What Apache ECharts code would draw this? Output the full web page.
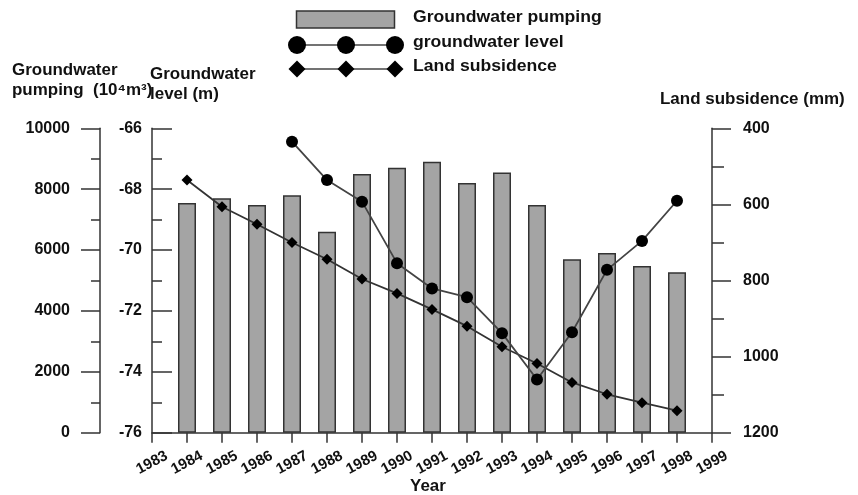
<!DOCTYPE html>
<html>
<head>
<meta charset="utf-8">
<script src="https://cdn.jsdelivr.net/npm/echarts@6/dist/echarts.min.js"></script>
<style>
html,body{margin:0;padding:0;background:#fff;}
#chart{width:858px;height:495px;}
</style>
</head>
<body>
<div id="chart"></div>
<script>
var years = [1984,1985,1986,1987,1988,1989,1990,1991,1992,1993,1994,1995,1996,1997,1998];
var pumping = [7550,7700,7480,7800,6600,8500,8700,8900,8200,8550,7480,5700,5900,5480,5270];
var levelYears = [1987,1988,1989,1990,1991,1992,1993,1994,1995,1996,1997,1998];
var level = [-66.44,-67.70,-68.41,-70.43,-71.26,-71.55,-72.73,-74.25,-72.70,-70.65,-69.70,-68.38];
var subsidence = [536,606,652,700,744,796,834,876,920,974,1018,1068,1099,1121,1142];
var seriesNames = ['Groundwater pumping','groundwater level','Land subsidence'];

var FONT = '"Liberation Sans", Arial, sans-serif';
var chart = echarts.init(document.getElementById('chart'), null, {renderer:'canvas'});

function pairs(xs, ys){ return xs.map(function(x,i){ return [x, ys[i]]; }); }
function plain(v){ return String(v); }

var axisLineStyle = {color:'#333', width:1.5};
var labelStyle = {color:'#111', fontFamily:FONT, fontWeight:'bold', fontSize:16, formatter:plain};

function txt(s, l, t, sx){
  return {type:'text', left:l, top:t, scaleX:sx||1.06,
    style:{text:s, font:'bold 16px '+FONT, fill:'#111'}};
}

var option = {
  animation:false,
  backgroundColor:'#fff',
  grid:{left:152, right:146, top:128.3, bottom:62.3, containLabel:false},
  xAxis:{
    type:'value', min:1983, max:1999, interval:1,
    axisLine:{show:true, lineStyle:axisLineStyle},
    axisTick:{show:true, length:10, lineStyle:axisLineStyle},
    splitLine:{show:false},
    axisLabel:{show:true, rotate:28, align:'center', verticalAlign:'middle', margin:30,
      color:'#111', fontFamily:FONT, fontWeight:'bold', fontSize:15, formatter:plain}
  },
  yAxis:[
    { // pumping
      type:'value', position:'left', offset:52, min:0, max:10000, interval:2000,
      axisLine:{show:true, lineStyle:axisLineStyle},
      axisTick:{show:true, inside:false, length:19, lineStyle:axisLineStyle},
      minorTick:{show:true, splitNumber:2, length:9, lineStyle:axisLineStyle},
      splitLine:{show:false}, minorSplitLine:{show:false},
      axisLabel:Object.assign({margin:30}, labelStyle)
    },
    { // level
      type:'value', position:'left', offset:0, min:-76, max:-66, interval:2,
      axisLine:{show:true, lineStyle:axisLineStyle},
      axisTick:{show:true, inside:true, length:20, lineStyle:axisLineStyle},
      minorTick:{show:true, splitNumber:2, length:10, lineStyle:axisLineStyle},
      splitLine:{show:false}, minorSplitLine:{show:false},
      axisLabel:Object.assign({margin:10}, labelStyle)
    },
    { // subsidence
      type:'value', position:'right', offset:0, min:400, max:1200, interval:200, inverse:true,
      axisLine:{show:true, lineStyle:axisLineStyle},
      axisTick:{show:true, inside:false, length:19, lineStyle:axisLineStyle},
      minorTick:{show:true, splitNumber:2, length:12, lineStyle:axisLineStyle},
      splitLine:{show:false}, minorSplitLine:{show:false},
      axisLabel:Object.assign({margin:31}, labelStyle)
    }
  ],
  series:[
    {
      name:seriesNames[0], type:'bar', xAxisIndex:0, yAxisIndex:0,
      data:pairs(years, pumping), barWidth:18,
      itemStyle:{color:'#a4a4a4', borderColor:'#333', borderWidth:1.5},
      z:2
    },
    {
      name:seriesNames[1], type:'line', xAxisIndex:0, yAxisIndex:1,
      data:pairs(levelYears, level),
      symbol:'circle', symbolSize:12,
      lineStyle:{color:'#444', width:1.8},
      itemStyle:{color:'#000'},
      z:4
    },
    {
      name:seriesNames[2], type:'line', xAxisIndex:0, yAxisIndex:2,
      data:pairs(years, subsidence),
      symbol:'diamond', symbolSize:11,
      lineStyle:{color:'#333', width:1.8},
      itemStyle:{color:'#000'},
      z:3
    }
  ],
  graphic:[
    // legend
    {type:'rect', shape:{x:296.5, y:11, width:98, height:17}, style:{fill:'#a4a4a4', stroke:'#333', lineWidth:1.5}},
    {type:'line', shape:{x1:297, y1:45, x2:395, y2:45}, style:{stroke:'#444', lineWidth:1.5}},
    {type:'circle', shape:{cx:297, cy:45, r:9}, style:{fill:'#000'}},
    {type:'circle', shape:{cx:346, cy:45, r:9}, style:{fill:'#000'}},
    {type:'circle', shape:{cx:395, cy:45, r:9}, style:{fill:'#000'}},
    {type:'line', shape:{x1:297, y1:69, x2:395, y2:69}, style:{stroke:'#444', lineWidth:1.5}},
    {type:'polygon', shape:{points:[[297,60.5],[305.5,69],[297,77.5],[288.5,69]]}, style:{fill:'#000'}},
    {type:'polygon', shape:{points:[[346,60.5],[354.5,69],[346,77.5],[337.5,69]]}, style:{fill:'#000'}},
    {type:'polygon', shape:{points:[[395,60.5],[403.5,69],[395,77.5],[386.5,69]]}, style:{fill:'#000'}},
    txt(seriesNames[0], 413, 10, 1.1),
    txt(seriesNames[1], 413, 35, 1.1),
    txt(seriesNames[2], 413, 59, 1.1),
    // axis titles
    txt('Groundwater', 12, 63),
    txt('pumping  (10\u2074m\u00b3)', 12, 83),
    txt('Groundwater', 150, 67),
    txt('level (m)', 150, 87),
    txt('Land subsidence (mm)', 660, 92),
    txt('Year', 410, 479)
  ]
};
chart.setOption(option);
</script>
</body>
</html>
